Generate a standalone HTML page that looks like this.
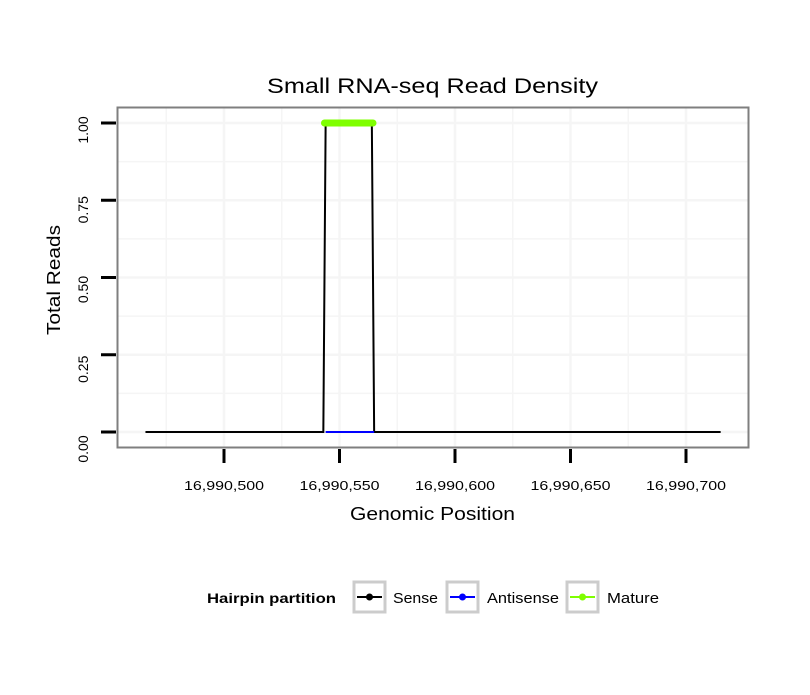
<!DOCTYPE html>
<html><head><meta charset="utf-8"><style>
body{margin:0;background:#fff;font-family:"Liberation Sans",sans-serif}
svg text{font-family:"Liberation Sans",sans-serif}
</style></head><body>
<svg width="810" height="690">
<rect width="810" height="690" fill="#fff"/>
<text x="267" y="93" font-size="21" textLength="331" lengthAdjust="spacingAndGlyphs">Small RNA-seq Read Density</text>
<g id="grid"></g>
<g id="marks"></g>
<rect x="117.5" y="107.5" width="631" height="340" fill="none" stroke="#7f7f7f" stroke-width="2"/>
<g id="axes"></g>
<text x="350" y="520" font-size="18" textLength="165" lengthAdjust="spacingAndGlyphs">Genomic Position</text>
<text transform="translate(60,335) rotate(-90)" font-size="18" textLength="110" lengthAdjust="spacingAndGlyphs">Total Reads</text>
<g>
<text x="207" y="603" font-size="14" font-weight="bold" textLength="129" lengthAdjust="spacingAndGlyphs">Hairpin partition</text>
<g><rect x="354" y="582" width="31" height="30" fill="#fff" stroke="#ccc" stroke-width="3"/><line x1="357" y1="597" x2="382" y2="597" stroke="#000" stroke-width="2"/><circle cx="369.5" cy="597" r="3.5" fill="#000"/><text x="393" y="603" font-size="15" textLength="45" lengthAdjust="spacingAndGlyphs">Sense</text></g>
<g><rect x="447" y="582" width="31" height="30" fill="#fff" stroke="#ccc" stroke-width="3"/><line x1="450" y1="597" x2="475" y2="597" stroke="#00f" stroke-width="2"/><circle cx="462.5" cy="597" r="3.5" fill="#00f"/><text x="487" y="603" font-size="15" textLength="72" lengthAdjust="spacingAndGlyphs">Antisense</text></g>
<g><rect x="567" y="582" width="31" height="30" fill="#fff" stroke="#ccc" stroke-width="3"/><line x1="570" y1="597" x2="595" y2="597" stroke="#7fff00" stroke-width="2"/><circle cx="582.5" cy="597" r="3.5" fill="#7fff00"/><text x="607" y="603" font-size="15" textLength="52" lengthAdjust="spacingAndGlyphs">Mature</text></g>
</g>
</svg>
<script>
const xTicks=[16990500,16990550,16990600,16990650,16990700];
const xTickLabels=["16,990,500","16,990,550","16,990,600","16,990,650","16,990,700"];
const yTicks=[0,0.25,0.5,0.75,1];
const yTickLabels=["0.00","0.25","0.50","0.75","1.00"];
const sensePos=[16990466,16990543,16990544,16990564,16990565,16990715];
const senseVal=[0,0,1,1,0,0];
const antisensePos=[16990544,16990565];
const antisenseVal=[0,0];
const maturePos=[16990543.5,16990564.5];
const matureVal=[1,1];
const NS="http://www.w3.org/2000/svg";
const X=v=>224+(v-16990500)*(686-224)/200;
const Y=v=>432-v*(432-123);
function mk(t,a,p){const e=document.createElementNS(NS,t);for(const k in a)e.setAttribute(k,a[k]);p.appendChild(e);return e;}
const grid=document.getElementById('grid'),axes=document.getElementById('axes'),marks=document.getElementById('marks');
const gx=[16990475,16990525,16990575,16990625,16990675].concat(xTicks);
gx.forEach(v=>{const l=mk('line',{x1:X(v),x2:X(v),y1:108,y2:447,stroke:'#f5f5f5','stroke-width':xTicks.includes(v)?2.5:1.5},grid);

});
[0.125,0.375,0.625,0.875].concat(yTicks).forEach(v=>{const l=mk('line',{x1:118,x2:748,y1:Y(v),y2:Y(v),stroke:'#f5f5f5','stroke-width':yTicks.includes(v)?2.5:1.5},grid);

});
xTicks.forEach((v,i)=>{const t=mk('line',{x1:X(v),x2:X(v),y1:449,y2:463,stroke:'#000','stroke-width':3},axes);


const s=mk('text',{x:X(v)-40,y:490,'font-size':13,textLength:80,lengthAdjust:'spacingAndGlyphs'},axes);s.textContent=xTickLabels[i];

});
yTicks.forEach((v,i)=>{const t=mk('line',{x1:101,x2:116,y1:Y(v),y2:Y(v),stroke:'#000','stroke-width':3},axes);


const s=mk('text',{transform:`translate(88,${Y(v)+7+(1-v)*10}) rotate(-90)`,'font-size':14,'text-anchor':'middle'},axes);s.textContent=yTickLabels[i];

});
function line(pos,val,col,w,name,cap){const p=mk('polyline',{points:pos.map((v,i)=>X(v)+','+Y(val[i])).join(' '),fill:'none',stroke:col,'stroke-width':w,'stroke-linecap':cap||'butt'},marks);

}
line(sensePos,senseVal,'#000',2,'sense-line');
line(antisensePos,antisenseVal,'#00f',2,'antisense-line');
line(maturePos,matureVal,'#7fff00',7,'mature-line','round');
</script>
</body></html>
